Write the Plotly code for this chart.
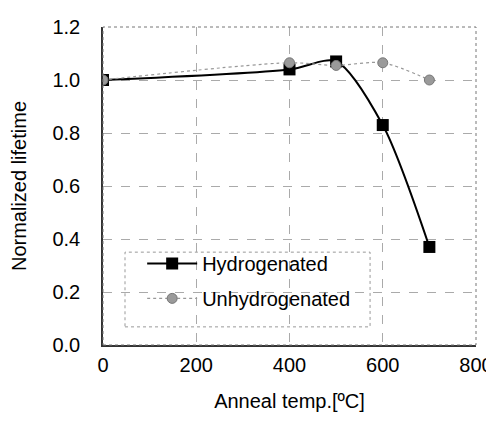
import plotly.graph_objects as go

temps = [0, 400, 500, 600, 700]
hydrogenated = [1.0, 1.04, 1.07, 0.83, 0.37]
unhydrogenated = [1.0, 1.065, 1.055, 1.065, 1.0]

x_ticks = [0, 200, 400, 600, 800]
y_ticks = [0.0, 0.2, 0.4, 0.6, 0.8, 1.0, 1.2]

FAM = "Liberation Sans, Arial, sans-serif"
font = dict(family=FAM, size=20, color="black")

fig = go.Figure()
fig.add_trace(go.Scatter(
    x=temps, y=hydrogenated, name="Hydrogenated", mode="lines+markers",
    legendgroup="h",
    line=dict(color="black", width=2, shape="spline", smoothing=0.8),
    marker=dict(symbol="square", size=12, color="black"),
))
fig.add_trace(go.Scatter(
    x=temps, y=unhydrogenated, name="Unhydrogenated", mode="lines+markers",
    legendgroup="u",
    line=dict(color="#999999", width=1.2, dash="dot", shape="spline", smoothing=0.8),
    marker=dict(symbol="circle", size=10, color="#9a9a9a", line=dict(color="#777777", width=1)),
))

# plot frame (dotted) and legend box (dotted)
fig.add_shape(type="rect", xref="paper", yref="paper", x0=0, y0=0, x1=1, y1=1,
              line=dict(color="#777777", width=1, dash="dot"), layer="above")
fig.add_shape(type="rect", xref="paper", yref="paper", x0=0.059, y0=0.057, x1=0.716, y1=0.292,
              line=dict(color="#999999", width=1, dash="dot"), fillcolor="white", layer="below")

fig.update_layout(
    width=486, height=413,
    margin=dict(l=95, r=18, t=19, b=76, autoexpand=False),
    paper_bgcolor="white", plot_bgcolor="white",
    font=font,
    showlegend=True,
    legend=dict(
        x=0.105, y=0.318, xanchor="left", yanchor="top",
        bgcolor="rgba(0,0,0,0)", borderwidth=0,
        font=font, itemwidth=50, tracegroupgap=6,
    ),
    xaxis=dict(
        range=[0, 800], tickvals=x_ticks, ticktext=[str(v) for v in x_ticks],
        showgrid=True, gridcolor="#aaaaaa", griddash="dash", gridwidth=1,
        showline=True, linecolor="#333333", linewidth=1.5, mirror=False,
        ticks="", zeroline=False, ticklabelstandoff=1, automargin=False,
        title=dict(text="Anneal temp.[ºC]", standoff=19, font=font),
        tickfont=font,
    ),
    yaxis=dict(
        range=[0, 1.2], tickvals=y_ticks, ticktext=[f"{v:.1f}" for v in y_ticks],
        showgrid=True, gridcolor="#aaaaaa", griddash="dash", gridwidth=1,
        showline=True, linecolor="#333333", linewidth=1.5, mirror=False,
        ticks="", zeroline=False, ticklabelstandoff=17, automargin=False,
        title=dict(text="Normalized lifetime", standoff=22, font=font),
        tickfont=font,
    ),
)

fig.write_html("out.html")
